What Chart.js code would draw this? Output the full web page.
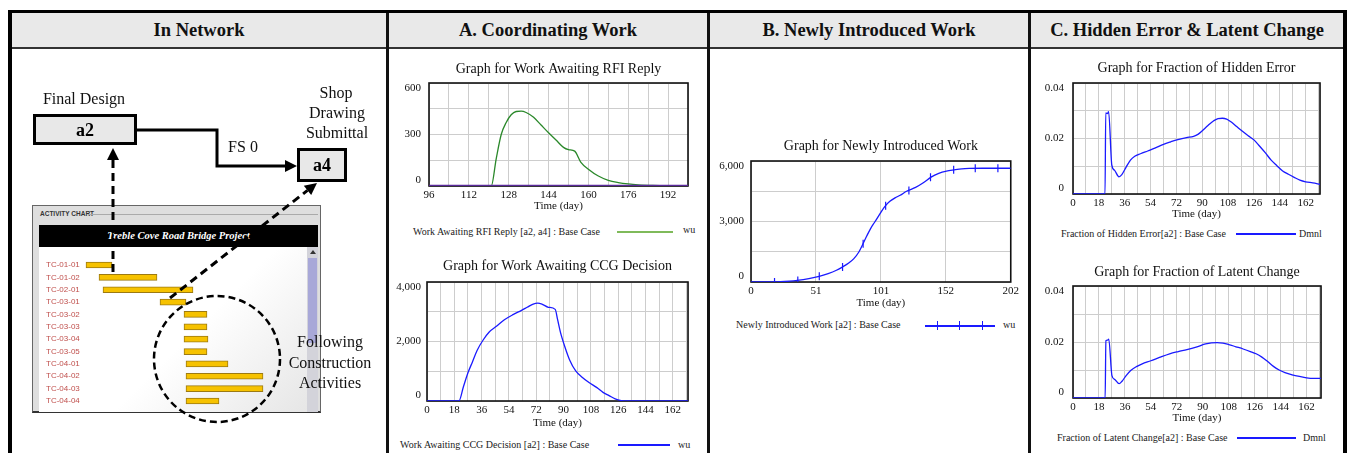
<!DOCTYPE html>
<html><head><meta charset="utf-8">
<script src="https://cdn.jsdelivr.net/npm/chart.js@4.4.1/dist/chart.umd.min.js"></script>
<style>
html,body{margin:0;padding:0;background:#fff;}
#page{position:relative;width:1353px;height:453px;overflow:hidden;font-family:"Liberation Serif","Times New Roman",serif;}
.abs{position:absolute;}
.hdr{position:absolute;top:13px;height:34px;line-height:34px;text-align:center;font-weight:bold;font-size:18.5px;color:#111;}
.leg{position:absolute;font-size:10px;color:#222;white-space:nowrap;line-height:12px;}
canvas{position:absolute;}
</style></head>
<body><div id="page">
<!-- table frame -->
<div class="abs" style="left:12px;top:13px;width:1331px;height:34px;background:#e9e9e9"></div>
<div class="abs" style="left:8px;top:10px;width:1339px;height:470px;border:4px solid #000;border-top-width:3px;box-sizing:border-box"></div>
<div class="abs" style="left:12px;top:47px;width:1331px;height:2px;background:#333"></div>
<div class="abs" style="left:386px;top:13px;width:3px;height:440px;background:#111"></div>
<div class="abs" style="left:707px;top:13px;width:3px;height:440px;background:#111"></div>
<div class="abs" style="left:1028px;top:13px;width:3px;height:440px;background:#111"></div>
<div class="hdr" style="left:12px;width:374px">In Network</div>
<div class="hdr" style="left:389px;width:318px">A. Coordinating Work</div>
<div class="hdr" style="left:710px;width:318px">B. Newly Introduced Work</div>
<div class="hdr" style="left:1031px;width:312px">C. Hidden Error &amp; Latent Change</div>

<!-- activity chart window -->
<div class="abs" style="left:32px;top:205px;width:289px;height:208px;background:#dedede;border:1px solid #666;border-bottom:2px solid #333;box-sizing:border-box"></div>
<div class="abs" style="left:40px;top:210px;font:bold 6.5px Arial,sans-serif;color:#333;line-height:8px">ACTIVITY CHART</div>
<div class="abs" style="left:88px;top:214px;width:230px;height:1px;background:#aaa"></div>
<div class="abs" style="left:39px;top:225px;width:279px;height:22px;background:#000;color:#fff;font:italic bold 10.5px 'Liberation Serif',serif;line-height:22px;text-align:center">Treble Cove Road Bridge Project</div>
<div class="abs" style="left:39px;top:247px;width:268px;height:165px;background:linear-gradient(135deg,#ffffff 55%,#e6e6e6)"></div>
<div class="abs" style="left:307px;top:247px;width:11px;height:165px;background:#d3d3da"></div>
<div class="abs" style="left:308px;top:258px;width:9px;height:85px;background:#a8a8d8"></div>
<div class="abs" style="left:310px;top:250px;width:0;height:0;border-left:3px solid transparent;border-right:3px solid transparent;border-bottom:4px solid #333"></div>
<canvas id="gantt" width="261" height="158" style="left:46px;top:254px;width:261px;height:158px"></canvas>

<canvas id="cRfi"></canvas>
<canvas id="cCcg"></canvas>
<canvas id="cNew"></canvas>
<canvas id="cHid"></canvas>
<canvas id="cLat"></canvas>

<!-- legends -->
<div class="leg" style="left:413px;top:226px">Work Awaiting RFI Reply [a2, a4] : Base Case</div>
<div class="abs" style="left:617px;top:231px;width:56px;height:1.5px;background:#7fba5a"></div>
<div class="leg" style="left:683px;top:224px">wu</div>

<div class="leg" style="left:400px;top:439px">Work Awaiting CCG Decision [a2] : Base Case</div>
<div class="abs" style="left:618px;top:444px;width:52px;height:1.5px;background:#1a1aff"></div>
<div class="leg" style="left:678px;top:439px">wu</div>

<div class="leg" style="left:736px;top:319px">Newly Introduced Work [a2] : Base Case</div>
<div class="abs" style="left:925px;top:325px;width:70px;height:1.5px;background:#1a1aff"></div>
<div class="abs" style="left:937px;top:321px;width:1.2px;height:9px;background:#1a1aff"></div>
<div class="abs" style="left:959px;top:321px;width:1.2px;height:9px;background:#1a1aff"></div>
<div class="abs" style="left:982px;top:321px;width:1.2px;height:9px;background:#1a1aff"></div>
<div class="leg" style="left:1003px;top:319px">wu</div>

<div class="leg" style="left:1061px;top:228px">Fraction of Hidden Error[a2] : Base Case</div>
<div class="abs" style="left:1236px;top:233px;width:60px;height:1.5px;background:#1a1aff"></div>
<div class="leg" style="left:1299px;top:228px">Dmnl</div>

<div class="leg" style="left:1057px;top:432px">Fraction of Latent Change[a2] : Base Case</div>
<div class="abs" style="left:1237px;top:437px;width:59px;height:1.5px;background:#1a1aff"></div>
<div class="leg" style="left:1303px;top:432px">Dmnl</div>

<!-- network diagram -->
<svg class="abs" width="1353" height="453" style="left:0;top:0;pointer-events:none" font-family="Liberation Serif, Times New Roman, serif">
  <text x="84" y="104" font-size="16" text-anchor="middle" fill="#111">Final Design</text>
  <rect x="34.5" y="115.5" width="101" height="28" fill="#e8e8e8" stroke="#000" stroke-width="3"/>
  <text x="85" y="136" font-size="18" font-weight="bold" text-anchor="middle">a2</text>
  <polyline points="137,130 217,130 217,166 287,166" fill="none" stroke="#000" stroke-width="3"/>
  <polygon points="297,166 285,160 285,172" fill="#000"/>
  <text x="243" y="152" font-size="16" text-anchor="middle" fill="#111">FS 0</text>
  <rect x="298.5" y="149.5" width="47" height="31" fill="#e8e8e8" stroke="#000" stroke-width="3"/>
  <text x="322" y="171" font-size="18" font-weight="bold" text-anchor="middle">a4</text>
  <text x="336" y="98" font-size="16" text-anchor="middle" fill="#111">Shop</text>
  <text x="337" y="118" font-size="16" text-anchor="middle" fill="#111">Drawing</text>
  <text x="337" y="138" font-size="16" text-anchor="middle" fill="#111">Submittal</text>
  <line x1="113" y1="160" x2="113" y2="276" stroke="#000" stroke-width="3" stroke-dasharray="8 5"/>
  <polygon points="113,148 107,160 119,160" fill="#000"/>
  <line x1="170" y1="298" x2="307.5" y2="190.4" stroke="#000" stroke-width="3" stroke-dasharray="8 5"/>
  <polygon points="317,183 311.2,195.1 303.8,185.7" fill="#000"/>
  <circle cx="217" cy="359" r="63" fill="none" stroke="#000" stroke-width="2.5" stroke-dasharray="7 4"/>
  <text x="330" y="347" font-size="16" text-anchor="middle" fill="#111">Following</text>
  <text x="330" y="368" font-size="16" text-anchor="middle" fill="#111">Construction</text>
  <text x="330" y="388" font-size="16" text-anchor="middle" fill="#111">Activities</text>
</svg>
</div>
<script>
// ---------- data ----------
const ganttActivities = ['TC-01-01','TC-01-02','TC-02-01','TC-03-01','TC-03-02','TC-03-03','TC-03-04','TC-03-05','TC-04-01','TC-04-02','TC-04-03','TC-04-04'];
const ganttStart = [6, 19, 23, 80, 104, 104, 104, 104, 106, 106, 106, 106];
const ganttEnd   = [32, 77, 113, 106, 127, 127, 128, 127, 148, 183, 183, 139];

const rfiTime  = [96, 121, 123, 125, 127, 129, 131, 133, 135, 138, 141, 144, 147, 150, 152, 154.5, 157, 160, 164, 168, 172, 176, 180, 186, 192, 200];
const rfiValue = [0, 0, 160, 300, 370, 415, 434, 436, 428, 400, 355, 310, 268, 225, 212, 203, 138, 98, 58, 33, 20, 12, 7, 3, 1, 0];
const rfiZeroTime = [96, 200];
const rfiZeroValue = [0, 0];
const rfiXTicks = [96, 112, 128, 144, 160, 176, 192];
const rfiYTicks = [0, 300, 600];

const ccgTime  = [0, 21, 24, 27, 30, 33, 37, 41, 46, 51, 57, 62, 66, 70, 73, 76, 80, 84.5, 86, 88, 91, 94, 98, 102, 107, 112, 116, 120, 124, 128, 132, 172];
const ccgValue = [0, 0, 480, 950, 1320, 1700, 2050, 2320, 2520, 2730, 2910, 3040, 3150, 3260, 3290, 3250, 3150, 3080, 2750, 2300, 1800, 1380, 1010, 810, 615, 450, 290, 180, 70, 15, 0, 0];
const ccgXTicks = [0, 18, 36, 54, 72, 90, 108, 126, 144, 162];
const ccgYTicks = [0, 2000, 4000];

const newTime  = [0, 18, 30, 36, 45, 53, 60, 66, 71, 76, 80, 84, 87, 90, 93, 96, 100, 104, 108, 112, 116, 121, 128, 134, 140, 146, 152, 158, 164, 170, 180, 202];
const newValue = [0, 0, 40, 80, 170, 280, 420, 570, 740, 940, 1160, 1500, 1880, 2280, 2650, 2950, 3350, 3740, 4000, 4170, 4300, 4500, 4690, 4920, 5200, 5390, 5500, 5560, 5610, 5630, 5640, 5640];
const newMarkTime  = [18.3, 36.4, 53.1, 71.2, 87.2, 104.7, 122.8, 139.6, 157.6, 174.4, 192];
const newMarkValue = [0, 80, 285, 745, 1900, 3780, 4540, 5190, 5560, 5635, 5640];
const newXTicks = [0, 50.5, 101, 151.5, 202];
const newYTicks = [0, 3000, 6000];

const hidTime  = [0, 22.3, 22.8, 24, 24.8, 27, 29, 32, 34, 37, 40, 43, 47, 52, 57, 63, 68, 73, 79, 84, 87, 90, 94, 98, 101, 104, 107, 110, 114, 118, 122, 126, 130, 134, 138, 142, 146, 150, 154, 158, 162, 167, 172];
const hidValue = [0, 0, 0.0292, 0.0290, 0.0297, 0.0105, 0.0085, 0.0062, 0.0070, 0.0097, 0.0122, 0.0136, 0.0145, 0.0155, 0.0165, 0.0179, 0.0188, 0.0196, 0.0203, 0.0208, 0.0215, 0.0228, 0.0247, 0.0264, 0.0272, 0.0273, 0.0270, 0.0260, 0.0243, 0.0226, 0.0210, 0.0195, 0.0172, 0.0148, 0.0122, 0.0102, 0.0083, 0.0071, 0.0060, 0.0050, 0.0044, 0.0040, 0.0035];

const latTime  = [0, 22.3, 22.8, 24, 24.8, 27, 29, 32, 34, 37, 40, 44, 48, 54, 60, 67, 73, 79, 86, 92, 96, 100, 104, 108, 113, 118, 123, 127, 131, 135, 139, 143, 147, 152, 157, 162, 167, 172];
const latValue = [0, 0, 0.0205, 0.0207, 0.0210, 0.0080, 0.0066, 0.0051, 0.0060, 0.0081, 0.0098, 0.0112, 0.0122, 0.0133, 0.0145, 0.0158, 0.0166, 0.0173, 0.0183, 0.0193, 0.0197, 0.0198, 0.0196, 0.0191, 0.0183, 0.0175, 0.0166, 0.0158, 0.0146, 0.0130, 0.0113, 0.0100, 0.0091, 0.0083, 0.0077, 0.0072, 0.0070, 0.0070];
const fracXTicks = [0, 18, 36, 54, 72, 90, 108, 126, 144, 162];
const fracYTicks = [0, 0.02, 0.04];

// ---------- helpers ----------
const SERIF = "'Liberation Serif','Times New Roman',serif";
const pts = (xs, ys) => xs.map((x, i) => ({x, y: ys[i]}));
const range = (a, b, s) => { const r = []; for (let v = a; v <= b + 1e-9; v += s) r.push(+v.toFixed(6)); return r; };
const fmtNum = v => v.toLocaleString('en-US');

const framePlugin = {
  id: 'frame',
  beforeDatasetsDraw(chart) {
    const {ctx, chartArea: a} = chart;
    ctx.save();
    ctx.strokeStyle = '#111'; ctx.lineWidth = 1.6;
    ctx.strokeRect(a.left, a.top, a.right - a.left, a.bottom - a.top);
    ctx.restore();
  }
};
// Vensim keeps the end labels of the value axis inside the plot frame
const yLabelNudge = {
  id: 'yLabelNudge',
  beforeDraw(chart) {
    const s = chart.scales.y;
    const items = s.getLabelItems();
    items.forEach((it, i) => {
      const t = s.ticks[i];
      if (!t) return;
      if (Math.abs(t.value - s.max) < 1e-9) it.options.translation[1] += 5;
      else if (t.value === 0) it.options.translation[1] -= 6;
    });
  }
};

function vensimChart(id, o) {
  const [L, T, R, B] = o.plot;
  const cLeft = L - o.yW, cRight = R + o.padR;
  const cTop = Math.round(o.titleY - 8.4 - 3);
  const cBottom = Math.round(o.xTitleY + 6.6 + 2);
  const cv = document.getElementById(id);
  cv.width = cRight - cLeft; cv.height = cBottom - cTop;
  Object.assign(cv.style, {left: cLeft + 'px', top: cTop + 'px', width: cv.width + 'px', height: cv.height + 'px'});
  const gridColor = '#cdcdcd';
  return new Chart(cv, {
    type: 'line',
    data: {datasets: o.datasets},
    options: {
      responsive: false, animation: false, devicePixelRatio: 1,
      layout: {padding: {left: 0, right: o.padR, top: 0, bottom: 0}},
      plugins: {
        legend: {display: false}, tooltip: {enabled: false},
        title: {display: true, text: o.title, fullSize: false, color: '#111',
          font: {family: SERIF, size: 14, weight: 'normal'},
          padding: {top: 3, bottom: T - cTop - 3 - 16.8}}
      },
      elements: {point: {radius: 0}, line: {borderWidth: 1.3, cubicInterpolationMode: 'monotone'}},
      scales: {
        x: {type: 'linear', min: o.xMin, max: o.xMax,
          afterBuildTicks: s => { s.ticks = o.xGrid.map(v => ({value: v})); },
          afterFit: s => { s.height = cBottom - B; },
          grid: {color: gridColor, drawTicks: false}, border: {display: false},
          ticks: {autoSkip: false, maxRotation: 0, padding: 3, color: '#111', font: {family: SERIF, size: 11},
            callback: v => o.xLabels.some(l => Math.abs(l - v) < 1e-6) ? o.xFmt(v) : ''},
          title: {display: true, text: 'Time (day)', color: '#111', font: {family: SERIF, size: 11}, padding: {top: 0, bottom: 2}}
        },
        y: {type: 'linear', min: 0, max: o.yMax,
          afterBuildTicks: s => { s.ticks = o.yGrid.map(v => ({value: v})); },
          afterFit: s => { s.width = o.yW; },
          grid: {color: gridColor, drawTicks: false}, border: {display: false},
          ticks: {autoSkip: false, padding: o.yPad, color: '#111', font: {family: SERIF, size: 11},
            callback: v => o.yLabels.some(l => Math.abs(l - v) < 1e-9) ? o.yFmt(v) : ''}
        }
      }
    },
    plugins: [framePlugin, yLabelNudge]
  });
}

// ---------- gantt ----------
new Chart(document.getElementById('gantt'), {
  type: 'bar',
  data: {labels: ganttActivities, datasets: [{
    data: ganttActivities.map((_, i) => [ganttStart[i], ganttEnd[i]]),
    backgroundColor: '#f6c200', borderColor: '#9c7a12', borderWidth: 1, borderSkipped: false, barThickness: 6
  }]},
  options: {
    indexAxis: 'y', responsive: false, animation: false, devicePixelRatio: 1,
    layout: {padding: 0},
    plugins: {legend: {display: false}, tooltip: {enabled: false}},
    scales: {
      x: {display: false, min: 0, max: 227},
      y: {grid: {display: false}, border: {display: false},
        afterFit: s => { s.width = 34; },
        ticks: {crossAlign: 'far', padding: 0, color: '#c0504d', font: {family: 'Arial, Liberation Sans, sans-serif', size: 8}}}
    }
  }
});

// ---------- charts ----------
vensimChart('cRfi', {
  plot: [429, 83, 688, 186], yW: 39, padR: 14, titleY: 69, xTitleY: 206,
  title: 'Graph for Work Awaiting RFI Reply',
  xMin: 96, xMax: 200, xGrid: range(96, 200, 8), xLabels: rfiXTicks, xFmt: v => String(v),
  yMax: 600, yGrid: range(0, 600, 150), yLabels: rfiYTicks, yFmt: fmtNum, yPad: 8,
  datasets: [
    {data: pts(rfiZeroTime, rfiZeroValue), borderColor: '#5b2a9c', borderWidth: 2.6},
    {data: pts(rfiTime, rfiValue), borderColor: '#2a882a', borderWidth: 1.3}
  ]
});

vensimChart('cCcg', {
  plot: [427, 282, 688, 401], yW: 36, padR: 14, titleY: 266, xTitleY: 423,
  title: 'Graph for Work Awaiting CCG Decision',
  xMin: 0, xMax: 172, xGrid: range(0, 171, 9).concat([172]), xLabels: ccgXTicks, xFmt: v => String(v),
  yMax: 4000, yGrid: range(0, 4000, 1000), yLabels: ccgYTicks, yFmt: fmtNum, yPad: 6,
  datasets: [{data: pts(ccgTime, ccgValue), borderColor: '#1a1aff'}]
});

vensimChart('cNew', {
  plot: [751, 161, 1012, 282], yW: 38, padR: 10, titleY: 146, xTitleY: 303,
  title: 'Graph for Newly Introduced Work',
  xMin: 0, xMax: 202, xGrid: newXTicks, xLabels: newXTicks, xFmt: v => String(Math.round(v)),
  yMax: 6000, yGrid: range(0, 6000, 1500), yLabels: newYTicks, yFmt: fmtNum, yPad: 7,
  datasets: [
    {data: pts(newTime, newValue), borderColor: '#1a1aff'},
    {data: pts(newMarkTime, newMarkValue), showLine: false, pointStyle: 'line', rotation: 90,
      pointRadius: 4, borderColor: '#1a1aff', pointBorderWidth: 1.2}
  ]
});

vensimChart('cHid', {
  plot: [1073, 83, 1320, 194], yW: 38, padR: 14, titleY: 68, xTitleY: 214,
  title: 'Graph for Fraction of Hidden Error',
  xMin: 0, xMax: 172, xGrid: range(0, 171, 9).concat([172]), xLabels: fracXTicks, xFmt: v => String(v),
  yMax: 0.04, yGrid: [0, 0.01, 0.02, 0.03, 0.04], yLabels: fracYTicks, yFmt: v => v === 0 ? '0' : v.toFixed(2), yPad: 9,
  datasets: [{data: pts(hidTime, hidValue), borderColor: '#1a1aff'}]
});

vensimChart('cLat', {
  plot: [1073, 286, 1321, 398], yW: 38, padR: 14, titleY: 272, xTitleY: 418,
  title: 'Graph for Fraction of Latent Change',
  xMin: 0, xMax: 172, xGrid: range(0, 171, 9).concat([172]), xLabels: fracXTicks, xFmt: v => String(v),
  yMax: 0.04, yGrid: [0, 0.01, 0.02, 0.03, 0.04], yLabels: fracYTicks, yFmt: v => v === 0 ? '0' : v.toFixed(2), yPad: 9,
  datasets: [{data: pts(latTime, latValue), borderColor: '#1a1aff'}]
});
</script>
</body></html>
